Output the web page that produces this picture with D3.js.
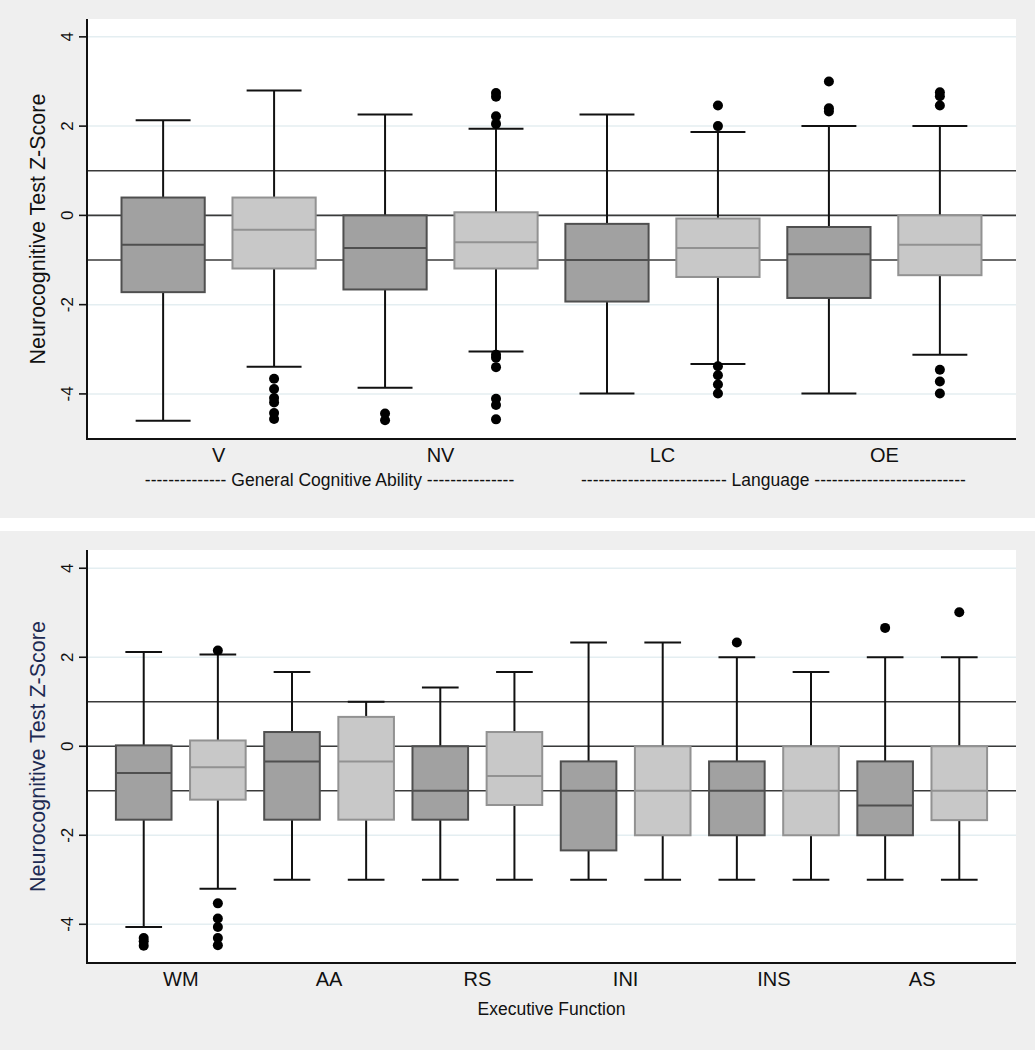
<!DOCTYPE html>
<html>
<head>
<meta charset="utf-8">
<script src="https://cdn.jsdelivr.net/npm/d3@7"></script>
<style>
  html, body { margin: 0; padding: 0; background: #ffffff; }
  svg { display: block; font-family: "Liberation Sans", Arial, sans-serif; }
</style>
</head>
<body>
<svg id="chart" width="1035" height="1050"></svg>
<script>
// ---------------- DATA ----------------
// Stats per box: [lower whisker, Q1, median, Q3, upper whisker]
const topCategories = ["V", "NV", "LC", "OE"];
const topGroupLabels = [
  "-------------- General Cognitive Ability ---------------",
  "------------------------- Language --------------------------"
];
const topDarkStats = [
  [-4.60, -1.72, -0.66, 0.40, 2.13],
  [-3.86, -1.66, -0.73, 0.00, 2.26],
  [-3.99, -1.93, -1.00, -0.19, 2.26],
  [-3.99, -1.85, -0.87, -0.26, 2.00]
];
const topLightStats = [
  [-3.39, -1.19, -0.32, 0.40, 2.80],
  [-3.05, -1.19, -0.60, 0.07, 1.94],
  [-3.33, -1.38, -0.73, -0.07, 1.87],
  [-3.12, -1.34, -0.66, 0.00, 2.00]
];
const topDarkOutliers = [
  [],
  [-4.44, -4.59],
  [],
  [3.00, 2.40, 2.33]
];
const topLightOutliers = [
  [-3.66, -3.89, -4.09, -4.19, -4.43, -4.56],
  [2.74, 2.66, 2.22, 2.05, -3.12, -3.19, -3.40, -4.11, -4.25, -4.57],
  [2.46, 2.00, -3.38, -3.58, -3.79, -3.99],
  [2.76, 2.67, 2.46, -3.46, -3.72, -3.99]
];

const bottomCategories = ["WM", "AA", "RS", "INI", "INS", "AS"];
const bottomGroupLabels = ["Executive Function"];
const bottomDarkStats = [
  [-4.06, -1.65, -0.60, 0.02, 2.12],
  [-3.00, -1.65, -0.34, 0.32, 1.67],
  [-3.00, -1.65, -1.00, 0.00, 1.32],
  [-3.00, -2.34, -1.00, -0.34, 2.33],
  [-3.00, -2.00, -1.00, -0.34, 2.00],
  [-3.00, -2.00, -1.33, -0.34, 2.00]
];
const bottomLightStats = [
  [-3.20, -1.20, -0.47, 0.13, 2.06],
  [-3.00, -1.65, -0.34, 0.66, 1.00],
  [-3.00, -1.32, -0.67, 0.32, 1.67],
  [-3.00, -2.00, -1.00, 0.00, 2.33],
  [-3.00, -2.00, -1.00, 0.00, 1.67],
  [-3.00, -1.66, -1.00, 0.00, 2.00]
];
const bottomDarkOutliers = [
  [-4.31, -4.38, -4.48],
  [],
  [],
  [],
  [2.33],
  [2.66]
];
const bottomLightOutliers = [
  [2.15, -3.53, -3.87, -4.06, -4.31, -4.47],
  [],
  [],
  [],
  [],
  [3.01]
];

const yTicks = [-4, -2, 0, 2, 4];
const refLines = [1, 0, -1];
const yTitle = "Neurocognitive Test Z-Score";

// ---------------- DRAWING ----------------
const svg = d3.select("#chart");

const colors = {
  dark: { fill: "#a1a1a1", stroke: "#4f4f4f" },
  light: { fill: "#c8c8c8", stroke: "#929292" }
};

function drawPanel(cfg) {
  const g = svg.append("g");
  g.append("rect")
    .attr("x", 0).attr("y", cfg.bgTop)
    .attr("width", 1035).attr("height", cfg.bgBottom - cfg.bgTop)
    .attr("fill", "#efefef");
  g.append("rect")
    .attr("x", cfg.left).attr("y", cfg.top)
    .attr("width", cfg.right - cfg.left).attr("height", cfg.bottom - cfg.top)
    .attr("fill", "#ffffff");

  const y = d3.scaleLinear().domain(cfg.yDomain).range([cfg.bottom, cfg.top]);

  const boxes = [];
  cfg.categories.forEach((c, i) => {
    boxes.push({ cat: c, kind: "dark", s: cfg.dark[i], out: cfg.darkOut[i] });
    boxes.push({ cat: c, kind: "light", s: cfg.light[i], out: cfg.lightOut[i] });
  });
  const n = boxes.length;
  const m = cfg.edge;
  const x = d3.scaleLinear().domain([-m, n - 1 + m]).range([cfg.left, cfg.right]);
  const step = x(1) - x(0);
  const bw = step * 0.75;
  const cw = bw * 0.66;

  g.append("g").selectAll("line").data(yTicks).join("line")
    .attr("x1", cfg.left).attr("x2", cfg.right)
    .attr("y1", d => y(d)).attr("y2", d => y(d))
    .attr("stroke", "#e4eef1").attr("stroke-width", 1.5);

  g.append("g").selectAll("line").data(refLines).join("line")
    .attr("x1", cfg.left).attr("x2", cfg.right)
    .attr("y1", d => y(d)).attr("y2", d => y(d))
    .attr("stroke", "#3a3a3a").attr("stroke-width", 1.6);

  const wg = g.append("g").attr("stroke", "#111").attr("stroke-width", 2);
  boxes.forEach((b, i) => {
    const cx = x(i);
    wg.append("line").attr("x1", cx).attr("x2", cx).attr("y1", y(b.s[4])).attr("y2", y(b.s[3]));
    wg.append("line").attr("x1", cx).attr("x2", cx).attr("y1", y(b.s[1])).attr("y2", y(b.s[0]));
    wg.append("line").attr("x1", cx - cw / 2).attr("x2", cx + cw / 2).attr("y1", y(b.s[4])).attr("y2", y(b.s[4]));
    wg.append("line").attr("x1", cx - cw / 2).attr("x2", cx + cw / 2).attr("y1", y(b.s[0])).attr("y2", y(b.s[0]));
  });

  boxes.forEach((b, i) => {
    const cx = x(i);
    const col = colors[b.kind];
    g.append("rect")
      .attr("x", cx - bw / 2).attr("y", y(b.s[3]))
      .attr("width", bw).attr("height", y(b.s[1]) - y(b.s[3]))
      .attr("fill", col.fill).attr("stroke", col.stroke).attr("stroke-width", 2);
    g.append("line")
      .attr("x1", cx - bw / 2).attr("x2", cx + bw / 2)
      .attr("y1", y(b.s[2])).attr("y2", y(b.s[2]))
      .attr("stroke", col.stroke).attr("stroke-width", 2);
    g.append("g").selectAll("circle").data(b.out).join("circle")
      .attr("cx", cx).attr("cy", d => y(d)).attr("r", 5)
      .attr("fill", "#000");
  });

  g.append("line").attr("x1", cfg.left).attr("x2", cfg.left)
    .attr("y1", cfg.top).attr("y2", cfg.bottom + 1)
    .attr("stroke", "#111").attr("stroke-width", 2);
  g.append("line").attr("x1", cfg.left - 1).attr("x2", cfg.right)
    .attr("y1", cfg.bottom).attr("y2", cfg.bottom)
    .attr("stroke", "#111").attr("stroke-width", 2);

  g.append("g").selectAll("line").data(yTicks).join("line")
    .attr("x1", cfg.left - 8).attr("x2", cfg.left)
    .attr("y1", d => y(d)).attr("y2", d => y(d))
    .attr("stroke", "#111").attr("stroke-width", 1.6);
  g.append("g").selectAll("text").data(yTicks).join("text")
    .attr("transform", d => `translate(${cfg.left - 20},${y(d)}) rotate(-90)`)
    .attr("text-anchor", "middle").attr("dy", "0.35em")
    .attr("font-size", 17).attr("fill", "#111")
    .text(d => d);

  g.append("text")
    .attr("transform", `translate(${cfg.left - 50},${(cfg.top + cfg.bottom) / 2}) rotate(-90)`)
    .attr("text-anchor", "middle").attr("dy", "0.35em")
    .attr("font-size", 21.5).attr("fill", cfg.titleColor)
    .text(yTitle);

  g.append("g").selectAll("text").data(cfg.categories).join("text")
    .attr("x", (d, i) => (x(2 * i) + x(2 * i + 1)) / 2)
    .attr("y", cfg.catY)
    .attr("text-anchor", "middle").attr("font-size", 20).attr("fill", "#111")
    .text(d => d);

  g.append("g").selectAll("text").data(cfg.groupLabels).join("text")
    .attr("x", (d, i) => {
      const per = n / cfg.groupLabels.length;
      return (x(i * per) + x(i * per + per - 1)) / 2;
    })
    .attr("y", cfg.groupY)
    .attr("text-anchor", "middle").attr("font-size", 17.5).attr("fill", "#111")
    .text(d => d);
}

drawPanel({
  bgTop: 0, bgBottom: 518,
  left: 87, right: 1016, top: 19, bottom: 439,
  yDomain: [-5.01, 4.40],
  edge: 0.686,
  categories: topCategories,
  groupLabels: topGroupLabels,
  dark: topDarkStats, light: topLightStats,
  darkOut: topDarkOutliers, lightOut: topLightOutliers,
  catY: 462, groupY: 486,
  titleColor: "#111"
});

drawPanel({
  bgTop: 531, bgBottom: 1050,
  left: 87, right: 1016, top: 550, bottom: 963,
  yDomain: [-4.87, 4.41],
  edge: 0.765,
  categories: bottomCategories,
  groupLabels: bottomGroupLabels,
  dark: bottomDarkStats, light: bottomLightStats,
  darkOut: bottomDarkOutliers, lightOut: bottomLightOutliers,
  catY: 986, groupY: 1015,
  titleColor: "#1d2a52"
});
</script>
</body>
</html>
